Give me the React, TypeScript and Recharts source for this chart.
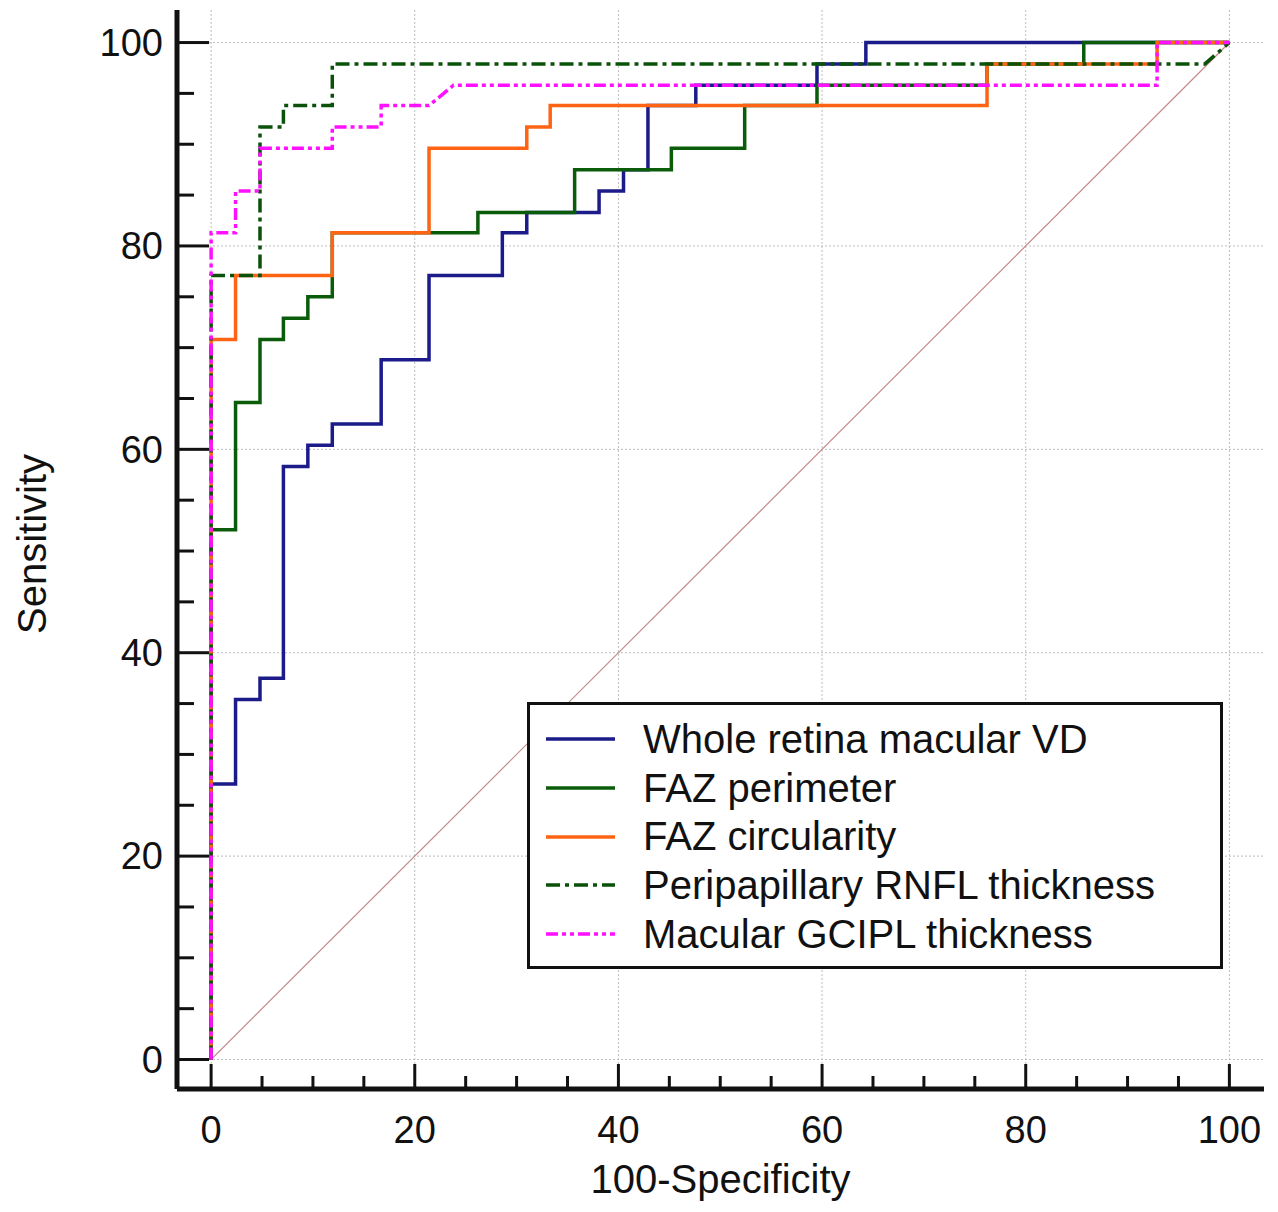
import { LineChart, Line, XAxis, YAxis, CartesianGrid, Legend, Label } from "recharts";

type Pt = [number, number];

// ROC step vertices: [100-Specificity, Sensitivity]
const wholeRetinaVD: Pt[] = [
  [0, 0], [0, 27.1], [2.4, 27.1], [2.4, 35.4], [4.8, 35.4], [4.8, 37.5], [7.1, 37.5], [7.1, 58.3],
  [9.5, 58.3], [9.5, 60.4], [11.9, 60.4], [11.9, 62.5], [16.7, 62.5], [16.7, 68.8], [21.4, 68.8],
  [21.4, 77.1], [28.6, 77.1], [28.6, 81.3], [31.0, 81.3], [31.0, 83.3], [38.1, 83.3], [38.1, 85.4],
  [40.5, 85.4], [40.5, 87.5], [42.9, 87.5], [42.9, 93.8], [47.6, 93.8], [47.6, 95.8], [59.5, 95.8],
  [59.5, 97.9], [64.3, 97.9], [64.3, 100], [100, 100],
];
const fazPerimeter: Pt[] = [
  [0, 0], [0, 52.1], [2.4, 52.1], [2.4, 64.6], [4.8, 64.6], [4.8, 70.8], [7.1, 70.8], [7.1, 72.9],
  [9.5, 72.9], [9.5, 75.0], [11.9, 75.0], [11.9, 81.3], [26.2, 81.3], [26.2, 83.3], [35.7, 83.3],
  [35.7, 87.5], [45.2, 87.5], [45.2, 89.6], [52.4, 89.6], [52.4, 93.8], [59.5, 93.8], [59.5, 95.8],
  [76.2, 95.8], [76.2, 97.9], [85.7, 97.9], [85.7, 100], [100, 100],
];
const fazCircularity: Pt[] = [
  [0, 0], [0, 70.8], [2.4, 70.8], [2.4, 77.1], [11.9, 77.1], [11.9, 81.3], [21.4, 81.3], [21.4, 89.6],
  [31.0, 89.6], [31.0, 91.7], [33.3, 91.7], [33.3, 93.8], [76.2, 93.8], [76.2, 97.9], [92.9, 97.9],
  [92.9, 100], [100, 100],
];
const rnflThickness: Pt[] = [
  [0, 0], [0, 77.1], [4.8, 77.1], [4.8, 91.7], [7.1, 91.7], [7.1, 93.8], [11.9, 93.8], [11.9, 97.9],
  [97.6, 97.9], [100, 100],
];
const gciplThickness: Pt[] = [
  [0, 0], [0, 81.3], [2.4, 81.3], [2.4, 85.4], [4.8, 85.4], [4.8, 89.6], [11.9, 89.6], [11.9, 91.7],
  [16.7, 91.7], [16.7, 93.8], [21.4, 93.8], [23.8, 95.8], [92.9, 95.8], [92.9, 100], [100, 100],
];
const chanceLine: Pt[] = [[0, 0], [100, 100]];

const axisTicks = [0, 5, 10, 15, 20, 25, 30, 35, 40, 45, 50, 55, 60, 65, 70, 75, 80, 85, 90, 95, 100];
const gridValues = [0, 20, 40, 60, 80, 100];

const series = [
  { name: "Whole retina macular VD", pts: wholeRetinaVD, color: "#1b1b8a", dash: undefined as string | undefined },
  { name: "FAZ perimeter", pts: fazPerimeter, color: "#0a5c0a", dash: undefined },
  { name: "FAZ circularity", pts: fazCircularity, color: "#ff6414", dash: undefined },
  { name: "Peripapillary RNFL thickness", pts: rnflThickness, color: "#0a520a", dash: "14 5 4 5" },
  { name: "Macular GCIPL thickness", pts: gciplThickness, color: "#ff10ff", dash: "12 4 4 4 4 4" },
];

const FONT = "'Liberation Sans', Arial, sans-serif";
const toRows = (pts: Pt[]) => pts.map(([x, y]) => ({ x, y }));

const XTick = (props: any) => {
  const { x, y, payload } = props;
  const major = payload.value % 20 === 0;
  return (
    <g>
      <line x1={x} x2={x} y1={y} y2={y - (major ? 25 : 13)} stroke="#111" strokeWidth={3} />
      {major && (
        <text x={x} y={y + 54} textAnchor="middle" fontSize={38} fontFamily={FONT} fill="#111">
          {payload.value}
        </text>
      )}
    </g>
  );
};

const YTick = (props: any) => {
  const { x, y, payload } = props;
  const major = payload.value % 20 === 0;
  return (
    <g>
      <line x1={x} x2={x + (major ? 32 : 17)} y1={y} y2={y} stroke="#111" strokeWidth={3} />
      {major && (
        <text x={x - 14} y={y} dy="0.35em" textAnchor="end" fontSize={38} fontFamily={FONT} fill="#111">
          {payload.value}
        </text>
      )}
    </g>
  );
};

const XTitle = (props: any) => {
  const vb = props.viewBox;
  return (
    <text x={vb.x + vb.width / 2} y={vb.y + 104} textAnchor="middle" fontSize={40} fontFamily={FONT} fill="#111">
      100-Specificity
    </text>
  );
};

const YTitle = () => (
  <text
    x={38}
    y={536}
    transform="rotate(-90 38 536)"
    textAnchor="middle"
    fontSize={40}
    fontFamily={FONT}
    fill="#111"
  >
    Sensitivity
  </text>
);

const RocLegend = () => (
  <div
    style={{
      boxSizing: "border-box",
      width: 696,
      height: 267,
      border: "3px solid #111",
      background: "#fff",
      paddingTop: 10,
      paddingLeft: 16,
      fontFamily: FONT,
      fontSize: 40,
      color: "#111",
    }}
  >
    {series.map((s) => (
      <div key={s.name} style={{ display: "flex", alignItems: "center", height: 48.7, whiteSpace: "nowrap" }}>
        <svg width={69} height={10} style={{ marginRight: 28 }}>
          <line x1={0} x2={69} y1={5} y2={5} stroke={s.color} strokeWidth={3.5} strokeDasharray={s.dash} />
        </svg>
        <span>{s.name}</span>
      </div>
    ))}
  </div>
);

export default function App() {
  return (
    <LineChart width={1262} height={1196} margin={{ top: 2, right: 6, bottom: 15, left: 69 }}>
      <CartesianGrid
        verticalValues={gridValues}
        horizontalValues={gridValues}
        stroke="#bdbdbd"
        strokeDasharray="2 2"
      />
      <XAxis
        type="number"
        dataKey="x"
        domain={[-3.35, 103.4]}
        allowDataOverflow
        ticks={axisTicks}
        interval={0}
        height={100}
        tickSize={0}
        tickMargin={0}
        tickLine={false}
        tick={<XTick />}
        axisLine={{ stroke: "#111", strokeWidth: 5 }}
      >
        <Label content={<XTitle />} />
      </XAxis>
      <YAxis
        type="number"
        dataKey="y"
        domain={[-2.9, 103.2]}
        allowDataOverflow
        ticks={axisTicks}
        interval={0}
        width={100}
        tickSize={0}
        tickMargin={0}
        tickLine={false}
        tick={<YTick />}
        axisLine={{ stroke: "#111", strokeWidth: 5 }}
      >
        <Label content={<YTitle />} />
      </YAxis>
      <Legend
        layout="vertical"
        align="center"
        verticalAlign="middle"
        content={<RocLegend />}
        wrapperStyle={{ position: "absolute", left: 519, top: 694, width: 696, height: 267 }}
      />
      <Line
        data={toRows(chanceLine)}
        dataKey="y"
        stroke="#c48a8f"
        strokeWidth={1.2}
        dot={false}
        legendType="none"
        isAnimationActive={false}
      />
      {series.map((s) => (
        <Line
          key={s.name}
          data={toRows(s.pts)}
          dataKey="y"
          name={s.name}
          type="linear"
          stroke={s.color}
          strokeWidth={3.5}
          strokeDasharray={s.dash}
          dot={false}
          isAnimationActive={false}
        />
      ))}
    </LineChart>
  );
}
